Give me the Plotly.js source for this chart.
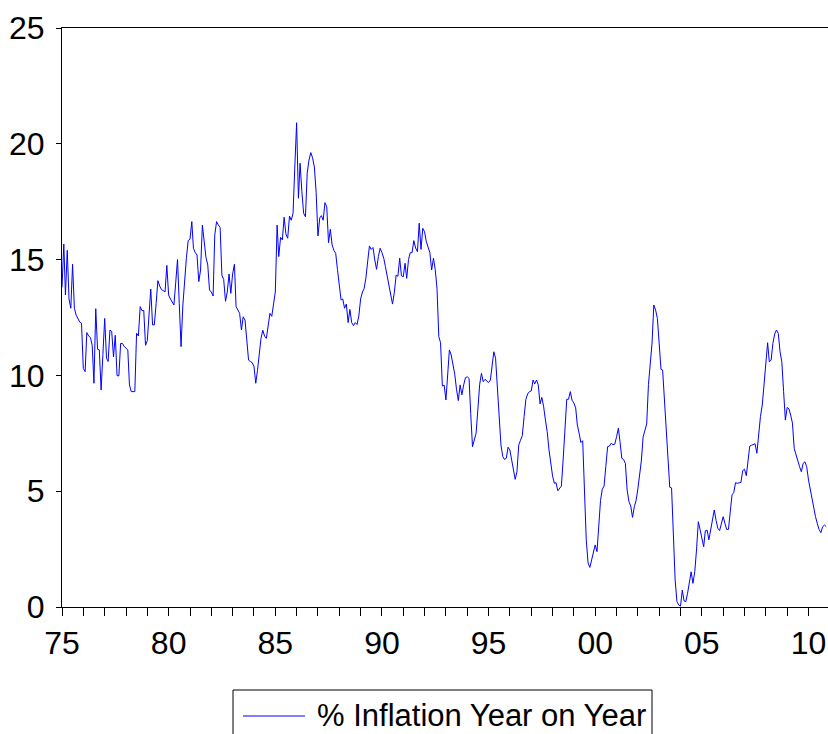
<!DOCTYPE html>
<html>
<head>
<meta charset="utf-8">
<script src="https://cdn.plot.ly/plotly-3.0.1.min.js"></script>
<style>
  html, body { margin: 0; padding: 0; background: #ffffff; }
  #chart { width: 828px; height: 734px; }
</style>
</head>
<body>
<div id="chart"></div>
<script>
// Monthly % inflation, year on year, starting January 1975
const seriesName = "% Inflation Year on Year";
const startYear = 1975;

const v1975_79 = [
  13.8,15.67,13.47,15.4,13.3,12.9,14.8,12.9,12.6,12.45,12.3,12.25,
  10.3,10.16,11.85,11.7,11.64,11.3,9.66,12.88,11.13,11.1,9.37,10.9,
  12.46,10.74,10.6,11.96,11.9,10.8,11.73,9.99,9.98,11.38,11.38,11.25,
  11.15,11.1,9.59,9.3,9.3,9.3,11.82,11.7,12.97,12.8,12.8,11.3,
  11.5,12.6,13.73,12.18,12.18,13.1,14.09,13.86,13.7,13.66,13.6,14.75
];
const v1980_84 = [
  13.47,13.3,13.2,13.04,14.0,15.0,13.1,11.24,13.04,14.2,15.1,15.82,
  15.88,16.64,15.49,15.3,15.2,14.05,14.55,16.49,15.85,15.1,14.77,13.69,
  13.6,13.43,16.06,16.64,16.5,16.39,14.33,14.14,13.2,13.6,14.38,13.54,
  14.38,14.8,12.97,12.82,12.68,11.96,12.53,12.39,11.46,10.66,10.6,10.55,
  10.4,9.66,10.2,10.9,11.6,11.95,11.7,11.6,12.1,12.68,12.55,13.0
];
const v1985_89 = [
  13.6,16.49,15.13,15.96,15.85,16.83,16.11,15.92,16.88,16.7,17.0,19.0,
  20.91,17.65,19.16,17.93,17.0,16.85,18.73,19.3,19.62,19.4,19.0,17.9,
  16.02,16.8,16.9,16.7,17.46,17.28,15.73,16.31,15.63,15.4,15.27,14.58,
  13.98,13.26,13.3,12.9,13.08,12.28,12.85,12.28,12.15,12.28,12.2,12.56,
  13.3,13.6,13.74,14.2,14.9,15.59,15.44,15.52,14.98,14.58,15.13,15.49
];
const v1990_94 = [
  15.3,15.06,14.7,14.3,13.8,13.4,13.08,13.57,14.33,14.28,15.06,14.3,
  14.26,14.84,14.19,15.0,15.3,15.3,15.82,15.5,15.34,16.57,15.44,16.35,
  16.2,15.77,15.58,15.3,14.55,15.06,14.58,13.76,11.67,11.41,9.54,9.58,
  8.94,9.94,11.1,10.88,10.5,10.05,9.4,8.91,9.59,9.16,9.59,9.9,
  9.94,9.87,8.36,6.92,7.21,7.5,8.5,9.6,10.09,9.73,9.83,9.77
];
const v1995_99 = [
  9.69,9.8,10.5,11.02,10.74,9.51,8.4,7.0,6.5,6.37,6.42,6.9,
  6.78,6.35,5.92,5.51,5.84,7.0,7.2,7.4,8.22,8.97,9.2,9.3,
  9.33,9.8,9.63,9.8,9.59,8.77,9.05,8.65,8.07,7.57,6.78,6.09,
  5.66,5.34,5.37,5.02,5.12,5.22,6.35,7.67,8.97,8.97,9.3,8.93,
  8.81,8.6,7.86,7.5,7.1,7.18,5.0,2.9,1.9,1.71,2.03,2.34
];
const v2000_04 = [
  2.68,2.39,3.61,4.59,5.08,5.22,6.06,6.92,6.95,7.07,7.01,7.03,
  7.35,7.72,7.14,6.42,6.37,6.2,5.05,4.55,4.36,3.87,4.33,4.59,
  5.1,5.8,6.3,7.35,7.6,7.9,9.6,10.5,11.4,13.04,12.82,12.46,
  11.38,10.26,10.23,8.94,7.5,6.2,5.17,5.14,2.89,1.17,0.23,0.09,
  0.04,0.73,0.27,0.23,0.59,1.17,1.52,1.02,1.52,2.46,3.68,3.35
];
const v2005_10 = [
  3.04,2.6,3.29,3.32,2.9,3.4,3.83,4.19,3.75,3.4,3.3,3.6,
  3.9,3.6,3.35,3.35,4.2,4.84,4.94,5.37,5.34,5.36,5.38,5.89,
  5.95,5.67,6.3,6.95,6.98,7.0,7.05,6.64,7.5,8.22,8.72,9.66,
  10.6,11.41,10.59,10.66,11.38,11.79,11.96,11.82,11.02,10.59,9.3,8.07,
  8.62,8.55,8.29,7.94,6.85,6.56,6.35,6.06,5.84,6.2,6.27,6.06,
  5.48,5.05,4.7,4.3,3.9,3.6,3.35,3.21,3.47,3.54,3.47
];

const tickYears = [1975, 1980, 1985, 1990, 1995, 2000, 2005, 2010];
const tickLabels = ["75", "80", "85", "90", "95", "00", "05", "10"];

const values = [].concat(v1975_79, v1980_84, v1985_89, v1990_94, v1995_99, v2000_04, v2005_10);
const dates = values.map((_, i) => {
  const y = startYear + Math.floor(i / 12);
  const m = (i % 12) + 1;
  return y + "-" + String(m).padStart(2, "0") + "-01";
});

const FONT = "Liberation Sans, Arial, sans-serif";
const FS = 32;

const trace = {
  x: dates,
  y: values,
  type: "scatter",
  mode: "lines",
  name: seriesName,
  line: { color: "#0000ff", width: 1 },
  showlegend: false,
  hoverinfo: "skip"
};

// plot area: x 62..828, y 28..607
const L = 62, R = 828, T = 28, B = 607;
const px = (p) => (p - L) / (R - L);
const py = (p) => (B - p) / (B - T);

const layout = {
  width: 828,
  height: 734,
  margin: { l: L, r: 828 - R, t: T, b: 734 - B, pad: 0 },
  paper_bgcolor: "#ffffff",
  plot_bgcolor: "#ffffff",
  font: { family: FONT, size: FS, color: "#000000" },
  xaxis: {
    type: "date",
    range: ["1975-01-01", "2010-12-01"],
    tickmode: "array",
    tickvals: tickYears.map(y => y + "-01-01"),
    ticktext: tickLabels,
    ticks: "outside",
    ticklen: 8,
    tickwidth: 1,
    tickcolor: "#000000",
    minor: { dtick: "M12", tick0: "1975-01-01", ticks: "outside", ticklen: 8, tickwidth: 1, tickcolor: "#000000", showgrid: false },
    showline: true,
    linecolor: "#000000",
    linewidth: 1,
    mirror: true,
    showgrid: false,
    zeroline: false,
    tickfont: { family: FONT, size: FS, color: "#000000" }
  },
  yaxis: {
    range: [0, 25],
    tickmode: "linear",
    tick0: 0,
    dtick: 5,
    ticks: "outside",
    ticklen: 5,
    tickwidth: 1,
    tickcolor: "#000000",
    showline: true,
    linecolor: "#000000",
    linewidth: 1,
    showgrid: false,
    zeroline: false,
    ticklabelstandoff: 5,
    tickfont: { family: FONT, size: FS, color: "#000000" }
  },
  shapes: [
    { type: "rect", xref: "paper", yref: "paper", x0: px(233), x1: px(652), y0: py(690), y1: py(745),
      line: { color: "#000000", width: 1 }, fillcolor: "rgba(0,0,0,0)", layer: "above" },
    { type: "line", xref: "paper", yref: "paper", x0: px(243), x1: px(305), y0: py(716), y1: py(716),
      line: { color: "#0000ff", width: 1 } }
  ],
  annotations: [
    { xref: "paper", yref: "paper", x: px(315), y: py(715), xanchor: "left", yanchor: "middle",
      text: seriesName, showarrow: false, font: { family: FONT, size: 31, color: "#000000" } }
  ]
};

Plotly.newPlot("chart", [trace], layout, { displayModeBar: false, staticPlot: true });
</script>
</body>
</html>
